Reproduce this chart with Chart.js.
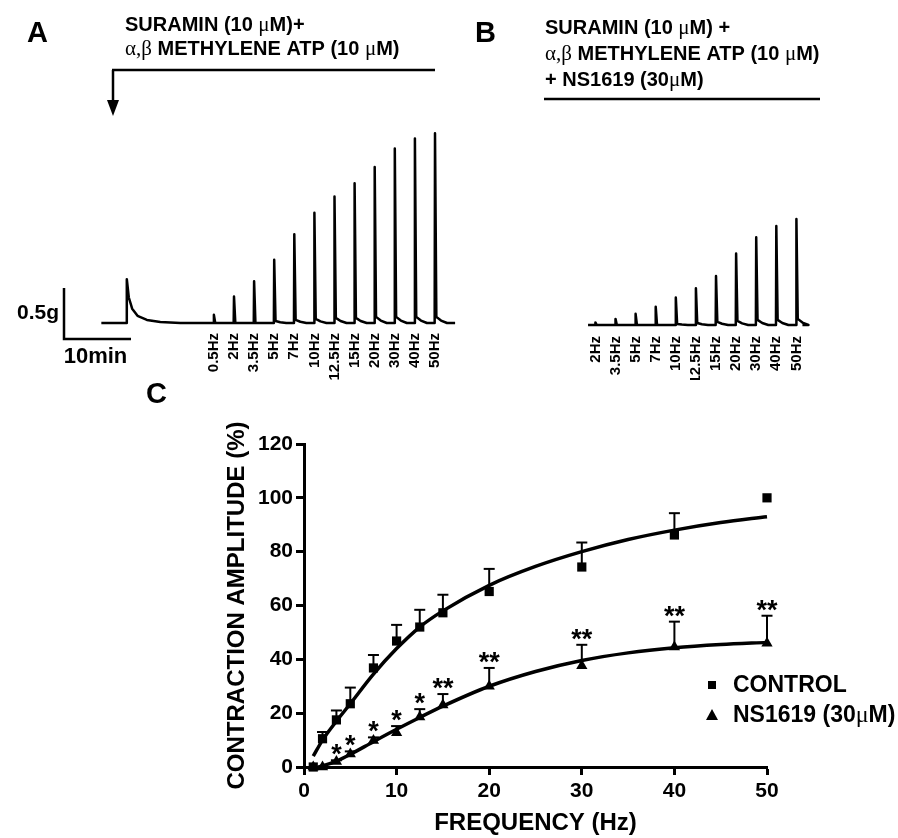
<!DOCTYPE html>
<html>
<head>
<meta charset="utf-8">
<script src="https://cdn.jsdelivr.net/npm/chart.js@4.4.1/dist/chart.umd.min.js"></script>
<style>
  html, body { margin: 0; padding: 0; background: #fff; }
  #wrap { position: relative; width: 898px; height: 838px; overflow: hidden; }
  canvas { position: absolute; }
</style>
</head>
<body>
<div id="wrap">
  <canvas id="traceA" width="460" height="380" style="left:0;top:0;width:460px;height:380px"></canvas>
  <canvas id="traceB" width="438" height="380" style="left:460px;top:0;width:438px;height:380px"></canvas>
  <canvas id="freqChart" width="768" height="468" style="left:130px;top:370px;width:768px;height:468px"></canvas>
</div>
<script>
// ---- panel A : control trace (time in min, tension in g) ----
const freqLabelsA = ['0.5Hz', '2Hz', '3.5Hz', '5Hz', '7Hz', '10Hz', '12.5Hz', '15Hz', '20Hz', '30Hz', '40Hz', '50Hz'];
const stimTimesA = [17, 20, 23, 26, 29, 32, 35, 38, 41, 44, 47, 50];
const peaksA = [0.08, 0.26, 0.41, 0.62, 0.87, 1.08, 1.24, 1.37, 1.53, 1.71, 1.81, 1.86];
const tailA = [0, 0, 0, 0.02, 0.03, 0.04, 0.05, 0.05, 0.06, 0.06, 0.06, 0.06];
// response to alpha,beta methylene ATP
const atpTimes = [0.2, 3.9, 4.0, 4.3, 4.8, 5.6, 7, 9, 12];
const atpTrace = [0, 0, 0.43, 0.25, 0.14, 0.07, 0.03, 0.01, 0];
const traceEndA = 53;

// ---- panel B : trace with NS1619 ----
const freqLabelsB = ['2Hz', '3.5Hz', '5Hz', '7Hz', '10Hz', '12.5Hz', '15Hz', '20Hz', '30Hz', '40Hz', '50Hz'];
const stimTimesB = [2.3, 5.3, 8.3, 11.3, 14.3, 17.3, 20.3, 23.3, 26.3, 29.3, 32.3];
const peaksB = [0.025, 0.06, 0.11, 0.18, 0.27, 0.36, 0.48, 0.70, 0.86, 0.97, 1.04];
const tailB = [0, 0, 0, 0, 0.01, 0.02, 0.03, 0.04, 0.05, 0.05, 0.06];
const traceStartB = 1.2;
const traceEndB = 33.2;

// scale bar
const scaleBarG = 0.5;
const scaleBarMin = 10;

// ---- panel C : frequency-response ----
const freqHz = [1, 2, 3.5, 5, 7.5, 10, 12.5, 15, 20, 30, 40, 50];
const controlMean = [0, 10.5, 17.5, 23.5, 36.8, 46.8, 52, 57.3, 65.2, 74.3, 86.2, 100];
const controlSem = [0, 2.5, 3.5, 6, 4.8, 6, 6.4, 6.7, 8.4, 9.1, 8.1, 0];
const nsMean = [0, 0, 2, 4.8, 9.8, 12.7, 18.6, 23, 30, 37.6, 44.6, 46];
const nsSem = [0, 0, 0.5, 1, 1.2, 2.5, 2.9, 4.1, 6.8, 7.8, 9.4, 10.2];
const nsStars = ['', '', '*', '*', '*', '*', '*', '**', '**', '**', '**', '**'];
// fitted curves
const controlFitX = [1, 2, 3.5, 5, 7.5, 10, 12.5, 15, 20, 25, 30, 35, 40, 45, 50];
const controlFitY = [4, 10, 17, 23.5, 34.5, 44, 52, 58, 67.5, 74.5, 80, 84.5, 88, 90.8, 93];
const nsFitX = [1.5, 2, 3.5, 5, 7.5, 10, 12.5, 15, 20, 25, 30, 35, 40, 45, 50];
const nsFitY = [0, 0.4, 2.2, 4.7, 9.4, 14, 18.4, 22.6, 30, 35.5, 39.6, 42.4, 44.3, 45.5, 46.3];

const FAMILY = '"Liberation Sans", Arial, Helvetica, sans-serif';
const SERIF = '"Liberation Serif", "DejaVu Serif", serif';
const HEAD_B = 'bold 20px ' + FAMILY;
const HEAD_G = '21px ' + SERIF;
const PANEL_FONT = 'bold 29px ' + FAMILY;

/**
 * 把刺激时间和峰值拼成一条张力曲线
 */
function buildTrace(start, times, peaks, tails, end) {
  const pts = start.slice();
  times.forEach((t, i) => {
    pts.push({ x: t - 0.05, y: 0 });
    pts.push({ x: t, y: peaks[i] });
    pts.push({ x: t + 0.2, y: tails[i] });
    pts.push({ x: t + 0.9, y: tails[i] * 0.4 });
    pts.push({ x: t + 1.8, y: 0 });
  });
  pts.push({ x: end, y: 0 });
  return pts;
}

function drawRuns(ctx, x, y, runs) {
  runs.forEach(([txt, font]) => {
    ctx.font = font;
    ctx.fillText(txt, x, y);
    x += ctx.measureText(txt).width;
  });
}

function line(ctx, pts) {
  ctx.beginPath();
  ctx.moveTo(pts[0][0], pts[0][1]);
  pts.slice(1).forEach(p => ctx.lineTo(p[0], p[1]));
  ctx.stroke();
}

function tracePlugin(offsetX, times, labels, labelTop, header) {
  return {
    id: 'traceExtras',
    afterDraw(chart) {
      const ctx = chart.ctx;
      const xs = chart.scales.x;
      ctx.save();
      ctx.fillStyle = '#000';
      ctx.strokeStyle = '#000';
      // 频率标签（竖排）
      ctx.font = 'bold 15px ' + FAMILY;
      times.forEach((t, i) => {
        ctx.save();
        ctx.translate(xs.getPixelForValue(t), labelTop);
        ctx.rotate(-Math.PI / 2);
        ctx.textAlign = 'right';
        ctx.textBaseline = 'middle';
        ctx.fillText(labels[i], 0, 0);
        ctx.restore();
      });
      ctx.translate(-offsetX, 0);
      ctx.textAlign = 'left';
      ctx.textBaseline = 'alphabetic';
      header(ctx, chart);
      ctx.restore();
    }
  };
}

function headerA(ctx, chart) {
  ctx.font = PANEL_FONT;
  ctx.fillText('A', 27, 42);
  drawRuns(ctx, 125, 31, [['SURAMIN (10 ', HEAD_B], ['\u03bc', HEAD_G], ['M)+', HEAD_B]]);
  drawRuns(ctx, 125, 55, [['\u03b1,\u03b2', HEAD_G], [' METHYLENE ATP (10 ', HEAD_B], ['\u03bc', HEAD_G], ['M)', HEAD_B]]);
  ctx.lineWidth = 2.5;
  line(ctx, [[112, 70], [435, 70]]);
  line(ctx, [[113, 70], [113, 104]]);
  ctx.beginPath();
  ctx.moveTo(107, 100); ctx.lineTo(119, 100); ctx.lineTo(113, 116);
  ctx.closePath();
  ctx.fill();
  // 标尺
  const ys = chart.scales.y, xs = chart.scales.x;
  const gLen = ys.getPixelForValue(0) - ys.getPixelForValue(scaleBarG);
  const mLen = xs.getPixelForValue(scaleBarMin) - xs.getPixelForValue(0);
  line(ctx, [[64, 339 - gLen], [64, 339], [64 + mLen, 339]]);
  ctx.font = 'bold 21px ' + FAMILY;
  ctx.textAlign = 'right';
  ctx.textBaseline = 'middle';
  ctx.fillText(scaleBarG + 'g', 59, 313);
  ctx.font = 'bold 22px ' + FAMILY;
  ctx.textAlign = 'center';
  ctx.fillText(scaleBarMin + 'min', 62 + mLen / 2, 357);
}

function headerB(ctx) {
  ctx.font = PANEL_FONT;
  ctx.fillText('B', 475, 42);
  drawRuns(ctx, 545, 34, [['SURAMIN (10 ', HEAD_B], ['\u03bc', HEAD_G], ['M) +', HEAD_B]]);
  drawRuns(ctx, 545, 60, [['\u03b1,\u03b2', HEAD_G], [' METHYLENE ATP (10 ', HEAD_B], ['\u03bc', HEAD_G], ['M)', HEAD_B]]);
  drawRuns(ctx, 545, 86, [['+ NS1619 (30', HEAD_B], ['\u03bc', HEAD_G], ['M)', HEAD_B]]);
  ctx.lineWidth = 2.5;
  line(ctx, [[544, 99], [820, 99]]);
}

function traceChart(id, data, yMin, yMax, xMax, pad, plugin) {
  return new Chart(document.getElementById(id), {
    type: 'scatter',
    data: {
      datasets: [{
        data: data,
        showLine: true,
        borderColor: '#000',
        borderWidth: 2.5,
        borderJoinStyle: 'round',
        pointRadius: 0,
        tension: 0
      }]
    },
    options: {
      responsive: false,
      animation: false,
      events: [],
      layout: { padding: pad },
      plugins: { legend: { display: false }, tooltip: { enabled: false } },
      scales: {
        x: { type: 'linear', display: false, min: 0, max: xMax },
        y: { display: false, min: yMin, max: yMax }
      }
    },
    plugins: [plugin]
  });
}

// 102 px per g, 6.7 px per min
const atpPts = atpTimes.map((t, i) => ({ x: t, y: atpTrace[i] }));
traceChart('traceA', buildTrace(atpPts, stimTimesA, peaksA, tailA, traceEndA),
  -17 / 102, 203 / 102, 360 / 6.7,
  { left: 100, right: 0, top: 120, bottom: 40 },
  tracePlugin(0, stimTimesA, freqLabelsA, 333, headerA));

traceChart('traceB', buildTrace([{ x: traceStartB, y: 0 }], stimTimesB, peaksB, tailB, traceEndB),
  -15 / 102, 205 / 102, 318 / 6.7,
  { left: 120, right: 0, top: 120, bottom: 40 },
  tracePlugin(460, stimTimesB, freqLabelsB, 336, headerB));

// ---- panel C ----
function drawErrBars(ctx, xs, ys, xv, mv, ev) {
  xv.forEach((x, i) => {
    if (!ev[i]) return;
    const px = xs.getPixelForValue(x);
    const y0 = ys.getPixelForValue(mv[i]);
    const y1 = ys.getPixelForValue(mv[i] + ev[i]);
    line(ctx, [[px, y0], [px, y1]]);
    line(ctx, [[px - 5.5, y1], [px + 5.5, y1]]);
  });
}

const panelCPlugin = {
  id: 'panelC',
  beforeDatasetsDraw(chart) {
    const ctx = chart.ctx, xs = chart.scales.x, ys = chart.scales.y;
    ctx.save();
    ctx.strokeStyle = '#000';
    ctx.lineWidth = 2;
    drawErrBars(ctx, xs, ys, freqHz, controlMean, controlSem);
    drawErrBars(ctx, xs, ys, freqHz, nsMean, nsSem);
    ctx.restore();
  },
  afterDatasetsDraw(chart) {
    const ctx = chart.ctx, xs = chart.scales.x, ys = chart.scales.y;
    ctx.save();
    ctx.fillStyle = '#000';
    // 显著性星号
    ctx.font = 'bold 27px ' + FAMILY;
    ctx.textAlign = 'center';
    ctx.textBaseline = 'alphabetic';
    freqHz.forEach((x, i) => {
      if (!nsStars[i]) return;
      ctx.fillText(nsStars[i], xs.getPixelForValue(x), ys.getPixelForValue(nsMean[i] + nsSem[i]) + 3);
    });
    // 以下用页面坐标
    ctx.translate(-130, -370);
    ctx.textAlign = 'left';
    ctx.font = PANEL_FONT;
    ctx.fillText('C', 146, 403);
    // 图例
    ctx.fillRect(708, 681, 8, 8);
    ctx.beginPath();
    ctx.moveTo(712, 709); ctx.lineTo(718, 720); ctx.lineTo(706, 720);
    ctx.closePath();
    ctx.fill();
    ctx.textBaseline = 'middle';
    const LB = 'bold 23px ' + FAMILY;
    drawRuns(ctx, 733, 686, [['CONTROL', LB]]);
    drawRuns(ctx, 733, 716, [['NS1619 (30', LB], ['\u03bc', '24px ' + SERIF], ['M)', LB]]);
    ctx.restore();
  }
};

const tickFont = { family: FAMILY, size: 21, weight: 'bold' };
const titleFont = { family: FAMILY, size: 24, weight: 'bold' };
const axisGrid = { display: true, drawOnChartArea: false, drawTicks: true, tickLength: 8, tickWidth: 3, tickColor: '#000' };
const axisBorder = { display: true, color: '#000', width: 3 };

new Chart(document.getElementById('freqChart'), {
  type: 'scatter',
  data: {
    datasets: [
      {
        label: 'control fit',
        data: controlFitX.map((x, i) => ({ x, y: controlFitY[i] })),
        showLine: true, borderColor: '#000', borderWidth: 3.5,
        pointRadius: 0, cubicInterpolationMode: 'monotone', clip: false
      },
      {
        label: 'NS1619 fit',
        data: nsFitX.map((x, i) => ({ x, y: nsFitY[i] })),
        showLine: true, borderColor: '#000', borderWidth: 3.5,
        pointRadius: 0, cubicInterpolationMode: 'monotone', clip: false
      },
      {
        label: 'CONTROL',
        data: freqHz.map((x, i) => ({ x, y: controlMean[i] })),
        pointStyle: 'rect', pointRadius: 6.5, borderWidth: 0,
        backgroundColor: '#000', borderColor: '#000', clip: false
      },
      {
        label: 'NS1619 (30\u03bcM)',
        data: freqHz.map((x, i) => ({ x, y: nsMean[i] })),
        pointStyle: 'triangle', pointRadius: 6.5, borderWidth: 0,
        backgroundColor: '#000', borderColor: '#000', clip: false
      }
    ]
  },
  options: {
    responsive: false,
    animation: false,
    events: [],
    layout: { padding: { left: 0, right: 131, top: 74, bottom: 0 } },
    plugins: { legend: { display: false }, tooltip: { enabled: false } },
    scales: {
      x: {
        type: 'linear', min: 0, max: 50,
        ticks: { stepSize: 10, color: '#000', font: tickFont, padding: 4 },
        grid: axisGrid,
        border: axisBorder,
        title: { display: true, text: 'FREQUENCY (Hz)', color: '#000', font: titleFont, padding: { top: 0, bottom: 0 } },
        afterFit: s => { s.height = 71; }
      },
      y: {
        min: 0, max: 120,
        ticks: { stepSize: 20, color: '#000', font: tickFont, padding: 3 },
        grid: axisGrid,
        border: axisBorder,
        title: { display: true, text: 'CONTRACTION AMPLITUDE (%)', color: '#000', font: titleFont, padding: { top: 93, bottom: 0 } },
        afterFit: s => { s.width = 174; }
      }
    }
  },
  plugins: [panelCPlugin]
});
</script>
</body>
</html>
